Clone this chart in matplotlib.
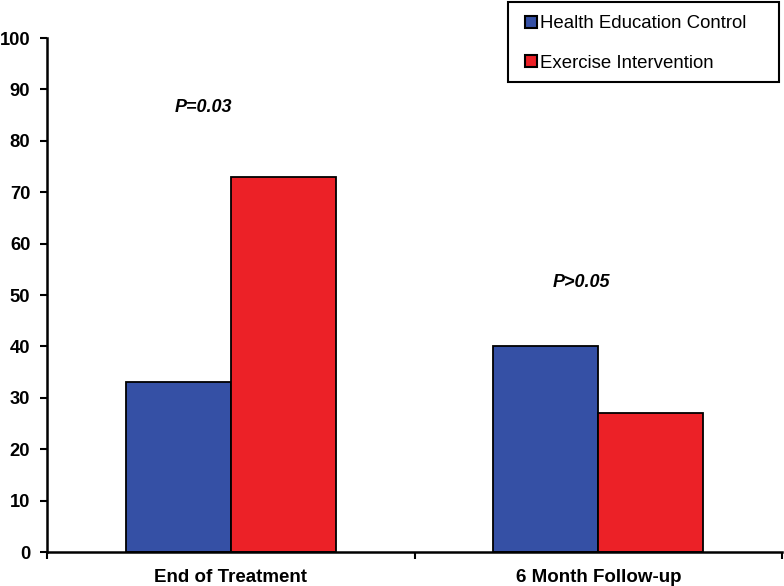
import numpy as np
import matplotlib.pyplot as plt
from matplotlib.lines import Line2D
from matplotlib.patches import Rectangle

categories = ['End of Treatment', '6 Month Follow-up']
control = [33, 40]
exercise = [73, 27]
series_names = ['Health Education Control', 'Exercise Intervention']
p_labels = ['P=0.03', 'P>0.05']
p_x = [-0.075, 0.953]
p_heights = [86.5, 52.5]

blue = '#3550a5'
red = '#ec2127'

plt.rcParams['font.family'] = ['Liberation Sans', 'DejaVu Sans']

fig = plt.figure(figsize=(7.84, 5.86), dpi=100)
ax = fig.add_axes([0.06, 0.058, 0.9375, 0.877])

x = np.arange(len(categories))
w = 0.286
ax.bar(x - w / 2, control, w, color=blue, edgecolor='black', linewidth=1.3)
ax.bar(x + w / 2, exercise, w, color=red, edgecolor='black', linewidth=1.3)

for px, lab, h in zip(p_x, p_labels, p_heights):
    ax.text(px, h, lab, ha='center', va='center', fontsize=13,
            fontweight='bold', style='italic')

ax.set_xlim(-0.5, 1.5)
ax.set_ylim(0, 100)
ax.set_yticks(np.arange(0, 101, 10))
ax.set_yticklabels([str(v) for v in range(0, 101, 10)], fontsize=13.2, fontweight='bold')
ax.set_xticks([-0.5, 0.5, 1.5])
ax.set_xticklabels([])
ax.set_xticks(x, minor=True)
ax.set_xticklabels(categories, minor=True, fontsize=13.5, fontweight='bold')
ax.tick_params(axis='x', which='minor', length=0, pad=12)
ax.tick_params(axis='x', which='major', length=5, width=1.5, direction='out')
ax.tick_params(axis='y', length=5, width=1.5, direction='out', pad=7)

for s in ['top', 'right']:
    ax.spines[s].set_visible(False)
for s in ['left', 'bottom']:
    ax.spines[s].set_linewidth(1.8)

# legend entries without frame, frame drawn separately (extra right padding as in original)
handles = [Line2D([], [], marker='s', linestyle='none', markersize=9,
                  markerfacecolor=c, markeredgecolor='black', markeredgewidth=1.5)
           for c in [blue, red]]
leg = fig.legend(handles, series_names, loc='upper left',
                 bbox_to_anchor=(523.5 / 784, 1 - 15 / 586),
                 fontsize=13.4, frameon=False,
                 handletextpad=0.1, handlelength=0.8, labelspacing=1.23,
                 borderpad=0, borderaxespad=0)
fig.patches.append(Rectangle((508 / 784, 1 - 82 / 586), 271 / 784, 80 / 586,
                             transform=fig.transFigure, fill=False,
                             edgecolor='black', linewidth=1.5))

fig.savefig('out.png', dpi=100)
